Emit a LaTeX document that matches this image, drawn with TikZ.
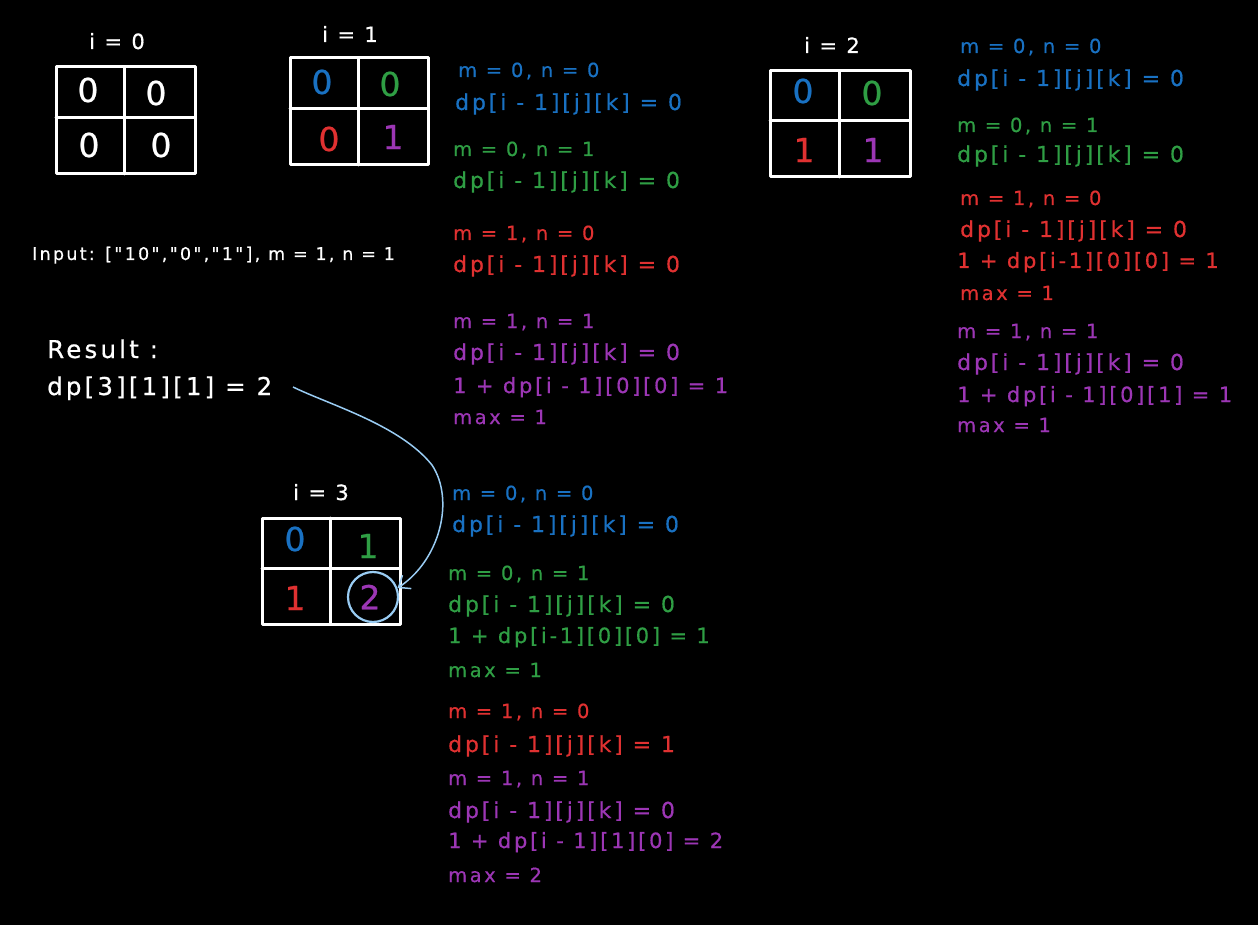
\documentclass[tikz,border=0pt]{standalone}
\usepackage{fontspec}
\setmainfont{DejaVu Sans}[LetterSpace=13, Ligatures=ResetAll, FakeBold=0.6]
\newfontfamily\plainfont{DejaVu Sans}[LetterSpace=13, FakeBold=0.6]
\usetikzlibrary{arrows.meta}
\definecolor{cblue}{HTML}{1971C2}
\definecolor{cgreen}{HTML}{2F9E44}
\definecolor{cred}{HTML}{E03131}
\definecolor{cpurple}{HTML}{9C36B5}
\definecolor{clight}{HTML}{99CCF3}
\begin{document}
\begin{tikzpicture}[x=1pt,y=-1pt,
  dtxt/.style={anchor=base west, inner sep=0pt, font=\fontsize{22}{22}\selectfont},
  ptxt/.style={anchor=base west, inner sep=0pt, font=\fontsize{21}{21}\selectfont},
  mtxt/.style={anchor=base west, inner sep=0pt, font=\fontsize{19.5}{19.5}\selectfont},
  wtxt/.style={anchor=base west, inner sep=0pt, text=white},
  gridline/.style={draw=white, line width=3pt, line cap=round, line join=round},
  cell/.style={inner sep=0pt, font=\fontsize{33}{33}\selectfont},
  lbl/.style={anchor=base, inner sep=0pt, text=white, font=\fontsize{21}{21}\selectfont},
]
\fill[black] (0,0) rectangle (1258,925);
\useasboundingbox (0,0) rectangle (1258,925);

% ---------- grid i = 0
\node[lbl] (l0) at (117,49) {i = 0};
\draw[gridline] (56,67) rectangle (195,174);
\draw[gridline] (124,67) -- (124,174);
\draw[gridline] (56,118) -- (195,118);
\node[cell,text=white] (c00) at (88,90) {0};
\node[cell,text=white] (c01) at (156,93) {0};
\node[cell,text=white] (c02) at (89,145) {0};
\node[cell,text=white] (c03) at (161,145) {0};

% ---------- grid i = 1
\node[lbl] (l1) at (350,42) {i = 1};
\draw[gridline] (290,58) rectangle (428,165);
\draw[gridline] (358,58) -- (358,165);
\draw[gridline] (290,109) -- (428,109);
\node[cell,text=cblue] (c10) at (322,82) {0};
\node[cell,text=cgreen] (c11) at (390,84) {0};
\node[cell,text=cred] (c12) at (329,139) {0};
\node[cell,text=cpurple] (c13) at (393,137) {1};

% ---------- grid i = 2
\node[lbl] (l2) at (832,53) {i = 2};
\draw[gridline] (770,71) rectangle (910,177);
\draw[gridline] (839,71) -- (839,177);
\draw[gridline] (770,121) -- (910,121);
\node[cell,text=cblue] (c20) at (803,91) {0};
\node[cell,text=cgreen] (c21) at (872,93) {0};
\node[cell,text=cred] (c22) at (804,150) {1};
\node[cell,text=cpurple] (c23) at (873,150) {1};

% ---------- grid i = 3
\node[lbl] (l3) at (321,500) {i = 3};
\draw[gridline] (262,518) rectangle (400,624);
\draw[gridline] (330,518) -- (330,624);
\draw[gridline] (262,568) -- (400,568);
\node[cell,text=cblue] (c30) at (295,539) {0};
\node[cell,text=cgreen] (c31) at (368,546) {1};
\node[cell,text=cred] (c32) at (295,598) {1};
\node[cell,text=cpurple] (c33) at (370,597) {2};
\node[draw=clight, line width=2.2pt, circle, minimum size=50pt, inner sep=0pt] (circ) at (373,597) {};

% ---------- white texts
\node[wtxt, font=\plainfont\fontsize{17.5}{17.5}\selectfont] (inp) at (32,260) {Input: ["10","0","1"], m = 1, n = 1};
\node[wtxt, font=\fontsize{24.5}{24.5}\selectfont] (resl) at (47,358) {Result :};
\node[wtxt, font=\fontsize{24.5}{24.5}\selectfont] (res) at (47,395) {dp[3][1][1] = 2};

% ---------- i = 1 texts
\node[mtxt, text=cblue] (a1) at (458,77) {m = 0, n = 0};
\node[dtxt, text=cblue] (a2) at (455,110) {dp[i - 1][j][k] = 0};
\node[mtxt, text=cgreen] (a3) at (453,156) {m = 0, n = 1};
\node[dtxt, text=cgreen] (a4) at (453,188) {dp[i - 1][j][k] = 0};
\node[mtxt, text=cred] (a5) at (453,240) {m = 1, n = 0};
\node[dtxt, text=cred] (a6) at (453,272) {dp[i - 1][j][k] = 0};
\node[mtxt, text=cpurple] (a7) at (453,328) {m = 1, n = 1};
\node[dtxt, text=cpurple] (a8) at (453,360) {dp[i - 1][j][k] = 0};
\node[ptxt, text=cpurple] (a9) at (453,393) {1 + dp[i - 1][0][0] = 1};
\node[mtxt, text=cpurple] (a10) at (453,424) {max = 1};

% ---------- i = 2 texts
\node[mtxt, text=cblue] (b1) at (960,53) {m = 0, n = 0};
\node[dtxt, text=cblue] (b2) at (957,86) {dp[i - 1][j][k] = 0};
\node[mtxt, text=cgreen] (b3) at (957,132) {m = 0, n = 1};
\node[dtxt, text=cgreen] (b4) at (957,162) {dp[i - 1][j][k] = 0};
\node[mtxt, text=cred] (b5) at (960,205) {m = 1, n = 0};
\node[dtxt, text=cred] (b6) at (960,237) {dp[i - 1][j][k] = 0};
\node[ptxt, text=cred] (b7) at (957,268) {1 + dp[i-1][0][0] = 1};
\node[mtxt, text=cred] (b8) at (960,300) {max = 1};
\node[mtxt, text=cpurple] (b9) at (957,338) {m = 1, n = 1};
\node[dtxt, text=cpurple] (b10) at (957,370) {dp[i - 1][j][k] = 0};
\node[ptxt, text=cpurple] (b11) at (957,402) {1 + dp[i - 1][0][1] = 1};
\node[mtxt, text=cpurple] (b12) at (957,432) {max = 1};

% ---------- i = 3 texts
\node[mtxt, text=cblue] (d1) at (452,500) {m = 0, n = 0};
\node[dtxt, text=cblue] (d2) at (452,532) {dp[i - 1][j][k] = 0};
\node[mtxt, text=cgreen] (d3) at (448,580) {m = 0, n = 1};
\node[dtxt, text=cgreen] (d4) at (448,612) {dp[i - 1][j][k] = 0};
\node[ptxt, text=cgreen] (d5) at (448,643) {1 + dp[i-1][0][0] = 1};
\node[mtxt, text=cgreen] (d6) at (448,677) {max = 1};
\node[mtxt, text=cred] (d7) at (448,718) {m = 1, n = 0};
\node[dtxt, text=cred] (d8) at (448,752) {dp[i - 1][j][k] = 1};
\node[mtxt, text=cpurple] (d9) at (448,785) {m = 1, n = 1};
\node[dtxt, text=cpurple] (d10) at (448,818) {dp[i - 1][j][k] = 0};
\node[ptxt, text=cpurple] (d11) at (448,848) {1 + dp[i - 1][1][0] = 2};
\node[mtxt, text=cpurple] (d12) at (448,882) {max = 2};

% ---------- connector
\coordinate (cs) at (293,387);
\draw[clight, line width=1.5pt, -{Straight Barb[length=10pt,width=16pt]}]
  (cs) .. controls (330,405) and (400,425) .. (432,465)
       .. controls (455,500) and (440,560) .. (circ.20);
\end{tikzpicture}
\end{document}
